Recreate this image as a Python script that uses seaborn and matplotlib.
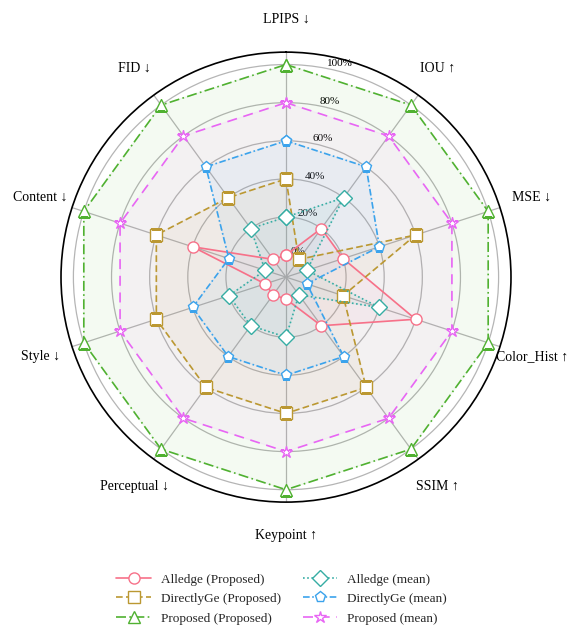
import numpy as np
import matplotlib.pyplot as plt
import seaborn as sns

# axes of the radar, clockwise from the top
metrics = ["LPIPS ↓", "IOU ↑", "MSE ↓", "Color_Hist ↑", "SSIM ↑",
           "Keypoint ↑", "Perceptual ↓", "Style ↓", "Content ↓", "FID ↓"]

# normalised scores (0 - 1)
alledge_proposed = [0.0, 0.2, 0.2, 0.6, 0.2, 0.0, 0.0, 0.0, 0.4, 0.0]
directlyge_proposed = [0.4, 0.0, 0.6, 0.2, 0.6, 0.6, 0.6, 0.6, 0.6, 0.4]
proposed_proposed = [1.0, 1.0, 1.0, 1.0, 1.0, 1.0, 1.0, 1.0, 1.0, 1.0]
alledge_mean = [0.2, 0.4, 0.0, 0.4, 0.0, 0.2, 0.2, 0.2, 0.0, 0.2]
directlyge_mean = [0.6, 0.6, 0.4, 0.0, 0.4, 0.4, 0.4, 0.4, 0.2, 0.6]
proposed_mean = [0.8, 0.8, 0.8, 0.8, 0.8, 0.8, 0.8, 0.8, 0.8, 0.8]

series_names = ["Alledge (Proposed)", "DirectlyGe (Proposed)", "Proposed (Proposed)",
                "Alledge (mean)", "DirectlyGe (mean)", "Proposed (mean)"]
series_values = [alledge_proposed, directlyge_proposed, proposed_proposed,
                 alledge_mean, directlyge_mean, proposed_mean]

r_ticks = [0.0, 0.2, 0.4, 0.6, 0.8, 1.0]
r_tick_labels = ["0%", "20%", "40%", "60%", "80%", "100%"]

sns.set_theme(style="white")
plt.rcParams['font.family'] = ['Liberation Serif', 'DejaVu Serif']

colors = sns.color_palette("husl", 6)
markers = ["o", "s", "^", "D", "p", "*"]
marker_sizes = [8, 9, 9, 8.5, 8, 9]
linestyles = ["-", (0, (4, 2)), (0, (6, 2, 1, 2)), (0, (1, 1.5)),
              (0, (4, 1.5, 1, 1.5)), (0, (6, 4))]

angles = np.linspace(0, 2 * np.pi, len(metrics), endpoint=False)
angles_closed = np.concatenate([angles, angles[:1]])

fig = plt.figure(figsize=(5.81, 6.38), dpi=100)
ax = fig.add_axes([0.105, 0.213, 0.7745, 0.7053], polar=True)
ax.set_theta_zero_location("N")
ax.set_theta_direction(-1)

for name, vals, c, m, ms, ls in zip(series_names, series_values, colors,
                                     markers, marker_sizes, linestyles):
    v = np.concatenate([vals, vals[:1]])
    ax.plot(angles_closed, v, color=c, linestyle=ls, linewidth=1.2,
            marker=m, markersize=ms, markerfacecolor="white",
            markeredgecolor=c, markeredgewidth=1.0, label=name, zorder=3)
    ax.fill(angles_closed, v, color=c, alpha=0.06, zorder=1)

ax.set_ylim(-0.115, 1.065)
ax.set_yticks(r_ticks)
ax.set_yticklabels(r_tick_labels, fontsize=8, color="black")
ax.set_rlabel_position(11)
ax.set_xticks(angles)
ax.set_xticklabels(metrics, fontsize=10, color="black")
ax.tick_params(axis="x", pad=11)

ax.grid(True, color="#b5b5b5", linewidth=0.9)
ax.yaxis.get_gridlines()[0].set_visible(False)
ax.spines["polar"].set_color("black")
ax.spines["polar"].set_linewidth(1.2)
ax.set_facecolor("white")

fig.legend(loc="upper center", bbox_to_anchor=(0.485, 0.12), ncol=2,
           frameon=False, fontsize=9.5, handlelength=2.6,
           columnspacing=1.6, labelspacing=0.55)

fig.savefig("out.png", dpi=100)
